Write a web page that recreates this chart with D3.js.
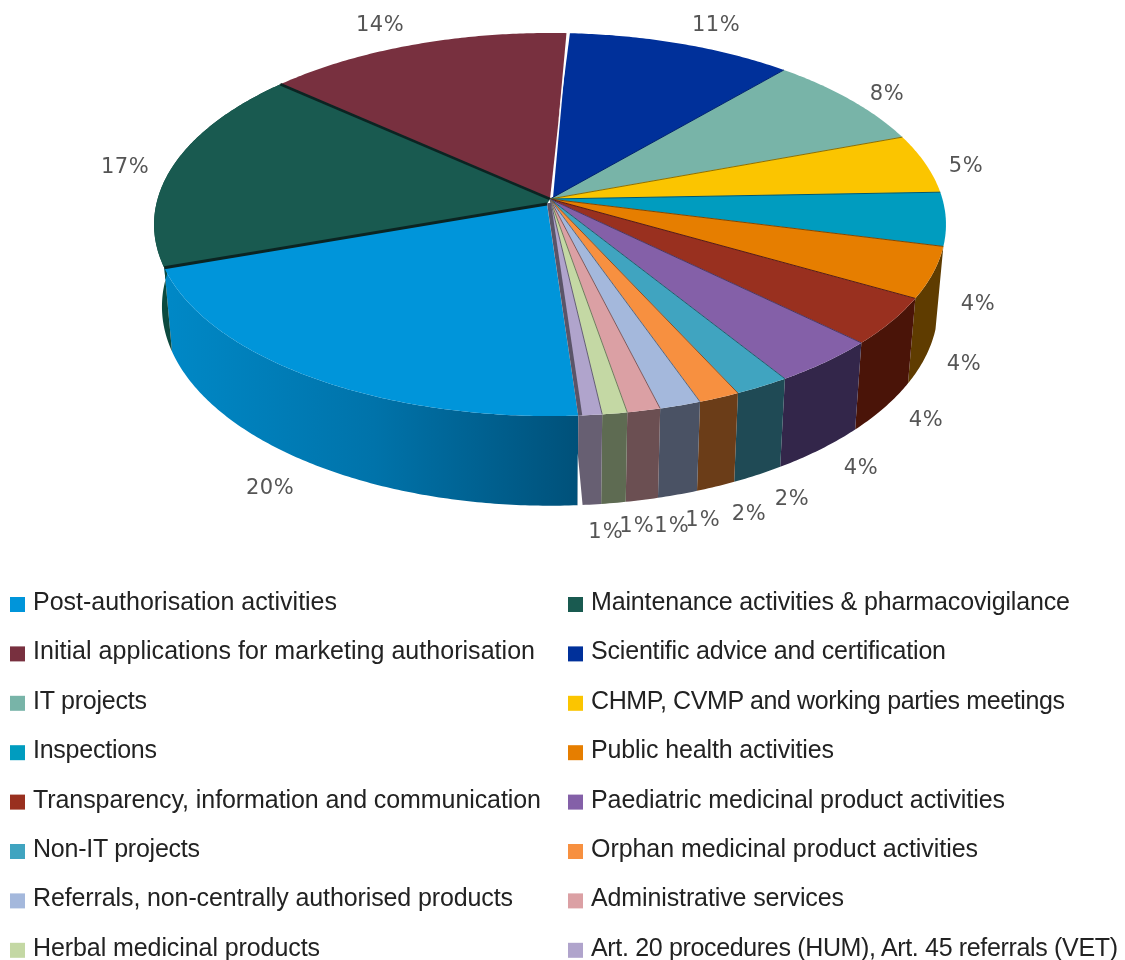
<!DOCTYPE html>
<html lang="en">
<head>
<meta charset="utf-8">
<title>Activities pie</title>
<style type="text/css">
  body { margin: 0; background: #fff; }
  svg { filter: blur(0.5px); }
  .pct { font-family: "DejaVu Sans", sans-serif; font-size: 21px; fill: #555; text-anchor: middle; }
  .leg { font-family: "Liberation Sans", sans-serif; font-size: 25px; fill: #222; }
</style>
<script src="https://cdn.jsdelivr.net/npm/d3@7/dist/d3.min.js"></script>
</head>
<body>
<svg width="1125" height="960"></svg>
<script>
// data, in drawing order
var categories = ["Post-authorisation activities", "Maintenance activities & pharmacovigilance",
  "Initial applications for marketing authorisation", "Scientific advice and certification",
  "IT projects", "CHMP, CVMP and working parties meetings", "Inspections", "Public health activities",
  "Transparency, information and communication", "Paediatric medicinal product activities",
  "Non-IT projects", "Orphan medicinal product activities", "Referrals, non-centrally authorised products",
  "Administrative services", "Herbal medicinal products", "Art. 20 procedures (HUM), Art. 45 referrals (VET)"];
var shares = [20.4, 17.2, 14.2, 10.5, 8, 5, 4.5, 4.3, 4, 3.9, 2, 1.5, 1.5, 1.2, 0.9, 0.85];
var printed = ["20%", "17%", "14%", "11%", "8%", "5%", "4%", "4%", "4%", "4%", "2%", "2%", "1%", "1%", "1%", "1%"];

// styles and layout
var topColors = ["#0095da", "#195a50", "#78303f", "#00309a", "#78b4a8", "#fbc500", "#009cbf", "#e67e00",
  "#99301f", "#8460a8", "#40a4c0", "#f79040", "#a4b8dc", "#dba0a4", "#c4d8a4", "#b0a4cc"];
var wallColors = ["url(#blueWall)", "#0c4a3f", "#4a1f2a", "#001f66", "#4f7870", "#a88400", "#5f3c00", "#5f3c00",
  "#4a1408", "#33264a", "#1f4a55", "#6b3d18", "#4a5264", "#6b4f52", "#5e6b52", "#675f72"];
var labelXY = [[270, 486], [125, 165], [380, 23], [716, 23], [887, 92], [966, 164], [978, 302], [964, 362],
  [926, 418], [861, 466], [792, 497], [749, 512], [703, 518], [672, 524], [637, 524], [606, 530]];
var legendEnds = [337, 1070, 535, 946, 147, 1065, 157, 834, 541, 1005, 200, 978, 513, 844, 320, 1118];

var svg = d3.select("svg");

// perspective ellipse: hub sits above the middle of the ellipse
var persp = 0.128;
var xScale = d3.scaleLinear().domain([-1, 1]).range([550 - 392.7, 550 + 392.7]);
var yScale = d3.scaleLinear().domain([-1, 1]).range([200 - 188.4, 200 + 188.4]);
var hubMain = [550, 199], hubBlue = [547, 204];

function project(a, low) {
  var u = -Math.sin(a), v = Math.cos(a), w = 1 - persp * v;
  var x = xScale(u / w), y = yScale(v / w);
  if (low) { // bottom ring of the wall
    x = 550 + (x - 550) * 0.98;
    y = 281 + (y - 200) * 1.04;
  }
  return [x, y];
}
function ring(a0, a1, low) {
  var n = Math.max(2, Math.ceil((a1 - a0) / 0.01));
  return d3.range(n + 1).map(function(i) { return project(a0 + (a1 - a0) * i / n, low); });
}

var pie = d3.pie().sort(null).value(function(d) { return d; })
  .startAngle(-3.6 * Math.PI / 180).endAngle(2 * Math.PI - 3.6 * Math.PI / 180);
var slices = pie(shares);
var line = d3.line();

var grad = svg.append("defs").append("linearGradient").attr("id", "blueWall")
  .attr("gradientUnits", "userSpaceOnUse").attr("x1", 170).attr("x2", 577).attr("y1", 0).attr("y2", 0);
grad.append("stop").attr("offset", 0).attr("stop-color", "#0088c6");
grad.append("stop").attr("offset", 0.5).attr("stop-color", "#0073aa");
grad.append("stop").attr("offset", 1).attr("stop-color", "#00517a");

// walls, skip the far side
svg.append("g").selectAll("path")
  .data(slices.filter(function(d) { return d.index < 2 || d.index > 6; }))
  .enter().append("path")
  .attr("d", function(d) {
    return line(ring(d.startAngle, d.endAngle, false).concat(ring(d.startAngle, d.endAngle, true).reverse())) + "Z";
  })
  .attr("fill", function(d) { return wallColors[d.index]; });

// little white notch where the big slice pulls away
var notch = project(slices[0].startAngle, true);
svg.append("path")
  .attr("d", line([[notch[0], notch[1] - 52], [notch[0], notch[1] + 1], [notch[0] + 5, notch[1] + 1]]) + "Z")
  .attr("fill", "#fff");

// top faces
svg.append("g").selectAll("path")
  .data(slices)
  .enter().append("path")
  .attr("d", function(d) {
    var pts = ring(d.startAngle, d.endAngle, false);
    if (d.index == 0) pts = [hubBlue].concat(pts);
    else if (d.index == 1) pts = [hubBlue].concat(pts, [hubMain]);
    else if (d.index == 3) pts = [[553, 198]].concat(pts);
    else pts = [hubMain].concat(pts);
    return line(pts) + "Z";
  })
  .attr("fill", function(d) { return topColors[d.index]; });

// spokes between the faces
var spokes = svg.append("g");
slices.forEach(function(d) {
  var p = project(d.startAngle, false), hub = hubMain, w = 1,
      color = d3.color(topColors[d.index]).darker(1.6).formatHex();
  if (d.index == 0 || d.index == 3) return;
  if (d.index == 1) { hub = hubBlue; color = "#0b2422"; w = 3; }
  if (d.index == 2) { color = "#0b2422"; w = 2.5; }
  if (d.index == 4) { color = "#00236f"; }
  spokes.append("path").attr("d", line([hub, p])).attr("stroke", color).attr("stroke-width", w).attr("fill", "none");
});
// white wedge between the maroon and navy slices, opening towards the rim
var gapEnd = project(slices[3].startAngle, false);
spokes.append("path")
  .attr("d", line([[d3.interpolateNumber(hubMain[0], gapEnd[0])(0.45), d3.interpolateNumber(hubMain[1], gapEnd[1])(0.45)],
    [gapEnd[0] - 1.5, gapEnd[1] - 1], [gapEnd[0] + 2, gapEnd[1] - 1]]) + "Z")
  .attr("fill", "#fff");
// dark band at the right edge of the big slice
var bandEnd = project(slices[0].startAngle, false);
spokes.append("path").attr("d", line([[549, 203], [bandEnd[0] + 2, bandEnd[1]]]))
  .attr("stroke", "#5a5468").attr("stroke-width", 4).attr("fill", "none");

// percent labels
svg.append("g").selectAll("text")
  .data(printed)
  .enter().append("text")
  .attr("class", "pct")
  .attr("x", function(d, i) { return labelXY[i][0]; })
  .attr("y", function(d, i) { return labelXY[i][1] + 8; })
  .attr("letter-spacing", function(d) { return d == "1%" ? 1 : 0.5; })
  .text(function(d) { return d; });

// legend, two columns
var legend = svg.append("g").selectAll("g")
  .data(categories)
  .enter().append("g")
  .attr("transform", function(d, i) {
    return "translate(" + (i % 2 ? 568 : 10) + "," + (610 + Math.floor(i / 2) * 49.4) + ")";
  });
legend.append("rect")
  .attr("x", 0).attr("y", -13).attr("width", 15).attr("height", 15)
  .attr("fill", function(d, i) { return topColors[i]; });
legend.append("text")
  .attr("class", "leg")
  .attr("x", 23)
  .attr("textLength", function(d, i) { return legendEnds[i] - (i % 2 ? 591 : 33); })
  .attr("lengthAdjust", "spacing")
  .text(function(d) { return d; });
</script>
</body>
</html>
